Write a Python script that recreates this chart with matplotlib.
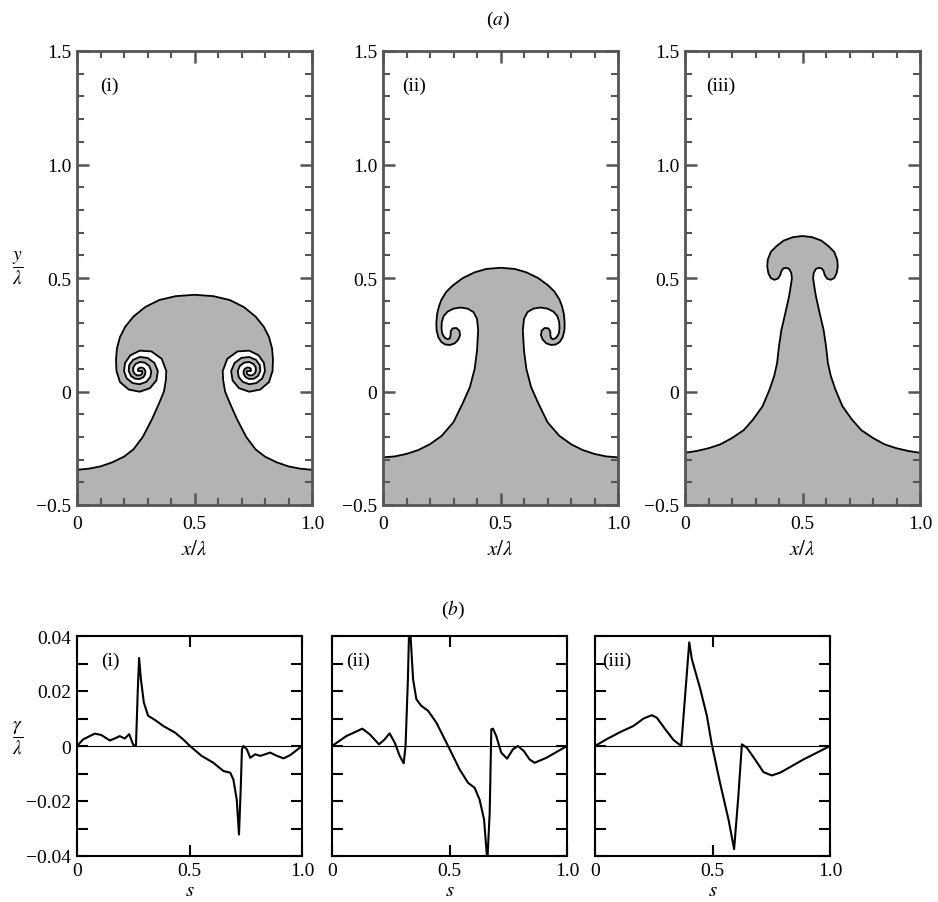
import numpy as np
import matplotlib.pyplot as plt
from matplotlib.ticker import MultipleLocator, FixedLocator

plt.rcParams['font.family'] = ['Liberation Serif', 'DejaVu Serif']
plt.rcParams['mathtext.fontset'] = 'stix'

# ---------------- (a) interface shapes, left half (mirrored about x = 0.5) ----------------
# panel (i): wall -> stem, rolled-up spiral (two interleaved arms), outer cap edge
base1_x = [0, 0.05, 0.1, 0.15, 0.2, 0.24, 0.28, 0.32, 0.35, 0.37, 0.378]
base1_y = [-0.345, -0.34, -0.33, -0.312, -0.287, -0.255, -0.2, -0.12, -0.05, 0.0, 0.05]
spiral1_center = (0.267, 0.09)
armA1_deg = [0, 30, 60, 90, 120, 150, 180, 210, 240, 270, 300, 330, 360,
             390, 420, 450, 480, 510, 540, 570, 600, 630, 660, 690, 720]
armA1_r = [0.113, 0.108, 0.100, 0.090, 0.080, 0.072, 0.067, 0.064, 0.061, 0.058, 0.055, 0.052, 0.049,
           0.046, 0.043, 0.040, 0.036, 0.032, 0.028, 0.025, 0.022, 0.019, 0.016, 0.013, 0.010]
armB1_deg = [180, 210, 240, 270, 300, 330, 360, 390, 420, 450, 480, 510, 540,
             570, 600, 630, 660, 690, 720, 750, 780, 810, 840, 870, 900]
armB1_r = [0.099, 0.097, 0.094, 0.091, 0.087, 0.082, 0.077, 0.072, 0.067, 0.062, 0.057, 0.052, 0.047,
           0.043, 0.039, 0.035, 0.031, 0.027, 0.024, 0.021, 0.018, 0.015, 0.012, 0.009, 0.006]
cap1_x = [0.166, 0.17, 0.183, 0.205, 0.24, 0.29, 0.35, 0.42, 0.5]
cap1_y = [0.14, 0.19, 0.24, 0.285, 0.33, 0.372, 0.403, 0.42, 0.426]

# panel (ii): wall -> stem -> curl over the lobe, lobe tongue, outer cap edge
base2_x = [0, 0.05, 0.1, 0.15, 0.2, 0.25, 0.3, 0.34, 0.37, 0.39, 0.4, 0.405,
           0.4, 0.385, 0.36, 0.33, 0.3, 0.275, 0.258, 0.25, 0.249, 0.252, 0.262, 0.275, 0.285, 0.288]
base2_y = [-0.29, -0.286, -0.275, -0.258, -0.232, -0.195, -0.135, -0.05, 0.02, 0.1, 0.18, 0.27,
           0.32, 0.35, 0.365, 0.37, 0.365, 0.352, 0.332, 0.305, 0.278, 0.255, 0.238, 0.23, 0.235, 0.25]
lobe2_x = [0.288, 0.296, 0.312, 0.325, 0.328, 0.32, 0.305, 0.285, 0.265, 0.248, 0.235, 0.228, 0.227]
lobe2_y = [0.265, 0.278, 0.28, 0.268, 0.248, 0.228, 0.212, 0.205, 0.207, 0.218, 0.24, 0.27, 0.30]
cap2_x = [0.23, 0.238, 0.249, 0.27, 0.298, 0.34, 0.39, 0.44, 0.5]
cap2_y = [0.34, 0.375, 0.405, 0.44, 0.468, 0.5, 0.525, 0.54, 0.545]

# panel (iii): wall -> stem -> neck, small hook, cap
base3_x = [0, 0.05, 0.1, 0.15, 0.2, 0.25, 0.29, 0.33, 0.36, 0.38, 0.392, 0.4, 0.41, 0.428,
           0.443, 0.45, 0.455]
base3_y = [-0.27, -0.262, -0.25, -0.233, -0.205, -0.17, -0.123, -0.065, 0.009, 0.07, 0.126, 0.2,
           0.27, 0.35, 0.42, 0.464, 0.5]
cap3_x = [0.452, 0.443, 0.431, 0.418, 0.41, 0.405, 0.395, 0.38, 0.365, 0.355, 0.35, 0.352,
          0.365, 0.389, 0.42, 0.46, 0.5]
cap3_y = [0.523, 0.54, 0.545, 0.542, 0.53, 0.512, 0.497, 0.492, 0.5, 0.52, 0.55, 0.58,
          0.615, 0.64, 0.665, 0.68, 0.685]

# ---------------- (b) gamma/lambda against s ----------------
s1 = [0, 0.027, 0.079, 0.108, 0.146, 0.175, 0.19, 0.212, 0.232, 0.25, 0.262, 0.27, 0.276, 0.284,
      0.297, 0.316, 0.346, 0.383, 0.435, 0.472, 0.502, 0.554, 0.606, 0.651, 0.681, 0.695, 0.71,
      0.72, 0.728, 0.733, 0.74, 0.755, 0.77, 0.792, 0.814, 0.859, 0.889, 0.918, 0.948, 1.0]
g1 = [0, 0.0024, 0.0045, 0.004, 0.002, 0.003, 0.0036, 0.0027, 0.0043, 0.0004, 0, 0.02, 0.032, 0.0243,
      0.0158, 0.011, 0.0095, 0.0073, 0.0049, 0.0024, 0, -0.0036, -0.0061, -0.0091, -0.0097, -0.0122,
      -0.0195, -0.0322, -0.0146, -0.0012, 0, -0.0012, -0.0043, -0.003, -0.0036, -0.0024, -0.0036,
      -0.0045, -0.0033, 0]
s2 = [0, 0.061, 0.129, 0.16, 0.2, 0.224, 0.245, 0.267, 0.288, 0.305, 0.313, 0.323, 0.328, 0.333,
      0.345, 0.359, 0.38, 0.409, 0.444, 0.494, 0.543, 0.579, 0.607, 0.628, 0.647, 0.661, 0.671,
      0.678, 0.685, 0.699, 0.72, 0.745, 0.77, 0.791, 0.816, 0.841, 0.862, 0.912, 1.0]
g2 = [0, 0.0036, 0.0063, 0.0043, 0.0006, 0.0024, 0.0046, 0.0012, -0.0036, -0.0063, 0, 0.0243, 0.042,
      0.042, 0.0243, 0.017, 0.0146, 0.0128, 0.0085, 0, -0.0085, -0.0134, -0.0152, -0.0195, -0.0267,
      -0.042, -0.0243, 0.0061, 0.0063, 0.0036, -0.0024, -0.0046, -0.0012, 0, -0.0018, -0.0049,
      -0.0061, -0.0043, 0]
s3 = [0, 0.05, 0.108, 0.164, 0.207, 0.242, 0.263, 0.299, 0.334, 0.367, 0.401, 0.412, 0.448, 0.476,
      0.497, 0.532, 0.568, 0.592, 0.61, 0.625, 0.646, 0.681, 0.717, 0.752, 0.788, 0.887, 1.0]
g3 = [0, 0.0025, 0.0051, 0.0073, 0.01, 0.0112, 0.0103, 0.0061, 0.0022, 0, 0.0377, 0.0316, 0.0207,
      0.011, 0.0006, -0.0134, -0.0267, -0.0375, -0.0182, 0.0006, -0.0006, -0.0049, -0.0095,
      -0.0107, -0.0097, -0.0049, 0]

W, H = 938, 903


def box(left, top, right, bottom):
    return [left / W, 1 - bottom / H, (right - left) / W, (bottom - top) / H]


def arm(center, deg, r):
    t = np.radians(deg)
    return list(center[0] + np.array(r) * np.cos(t)), list(center[1] + np.array(r) * np.sin(t))


aX, aY = arm(spiral1_center, armA1_deg, armA1_r)
bX, bY = arm(spiral1_center, armB1_deg, armB1_r)
half1 = (base1_x + aX + bX[::-1] + cap1_x, base1_y + aY + bY[::-1] + cap1_y)
half2 = (base2_x + lobe2_x + cap2_x, base2_y + lobe2_y + cap2_y)
half3 = (base3_x + cap3_x, base3_y + cap3_y)

fig = plt.figure(figsize=(W / 100, H / 100), dpi=100)

top_boxes = [box(77, 52, 312, 506), box(383, 52, 618, 506), box(685, 52, 920, 506)]
names = ['(i)', '(ii)', '(iii)']
top_lab_x = [0.1, 0.08, 0.09]
for k, (half, b) in enumerate(zip([half1, half2, half3], top_boxes)):
    ax = fig.add_axes(b)
    hx, hy = np.array(half[0]), np.array(half[1])
    lx = np.concatenate([hx, 1 - hx[::-1][1:]])
    ly = np.concatenate([hy, hy[::-1][1:]])
    ax.fill(np.concatenate([[0], lx, [1]]), np.concatenate([[-0.6], ly, [-0.6]]),
            facecolor='#b3b3b3', edgecolor='none')
    ax.plot(lx, ly, color='k', lw=1.3)
    ax.set_xlim(0, 1)
    ax.set_ylim(-0.5, 1.5)
    ax.xaxis.set_major_locator(FixedLocator([0, 0.5, 1.0]))
    ax.set_xticklabels(['0', '0.5', '1.0'])
    ax.xaxis.set_minor_locator(MultipleLocator(0.1))
    ax.yaxis.set_major_locator(FixedLocator([-0.5, 0, 0.5, 1.0, 1.5]))
    ax.set_yticklabels(['\u22120.5', '0', '0.5', '1.0', '1.5'])
    ax.yaxis.set_minor_locator(MultipleLocator(0.1))
    ax.tick_params(which='both', direction='in', top=True, right=True, color='#555555',
                   labelsize=14)
    ax.tick_params(which='major', length=8.5, width=1.8)
    ax.tick_params(which='minor', length=5, width=1.5)
    ax.tick_params(axis='x', pad=7)
    ax.tick_params(axis='y', pad=4)
    for sp in ax.spines.values():
        sp.set_color('#555555')
        sp.set_linewidth(2)
    ax.text(top_lab_x[k], 1.35, names[k], fontsize=14, ha='left', va='center')
    ax.set_xlabel(r'$x/\lambda$', fontsize=15, labelpad=6)

fig.text(18 / W, 1 - 268 / H, r'$\dfrac{y}{\lambda}$', fontsize=14, ha='center', va='center')
fig.text(498 / W, 1 - 20 / H, r'($a$)', fontsize=14, ha='center', va='center')
fig.text(453 / W, 1 - 610 / H, r'($b$)', fontsize=14, ha='center', va='center')

bot_boxes = [box(77, 637, 302, 857), box(332, 637, 567, 857), box(595, 637, 830, 857)]
bot_lab_x = [0.105, 0.062, 0.03]
for k, (s, g, b) in enumerate(zip([s1, s2, s3], [g1, g2, g3], bot_boxes)):
    ax = fig.add_axes(b)
    ax.axhline(0, color='k', lw=0.8)
    ax.plot(s, g, color='k', lw=1.5)
    ax.set_xlim(0, 1)
    ax.set_ylim(-0.04, 0.04)
    ax.xaxis.set_major_locator(FixedLocator([0, 0.5, 1.0]))
    ax.set_xticklabels(['0', '0.5', '1.0'])
    ax.yaxis.set_major_locator(FixedLocator([-0.04, -0.02, 0, 0.02, 0.04]))
    ax.yaxis.set_minor_locator(FixedLocator([-0.03, -0.01, 0.01, 0.03]))
    if k == 0:
        ax.set_yticklabels(['\u22120.04', '\u22120.02', '0', '0.02', '0.04'])
    else:
        ax.set_yticklabels([])
    ax.tick_params(which='both', direction='in', top=True, right=True, length=8, width=1.5,
                   labelsize=14)
    ax.tick_params(axis='x', pad=4)
    ax.tick_params(axis='y', pad=4)
    for sp in ax.spines.values():
        sp.set_linewidth(1.5)
    ax.text(bot_lab_x[k], 0.031, names[k], fontsize=14, ha='left', va='center')
    ax.set_xlabel(r'$s$', fontsize=15, labelpad=2)

fig.text(18 / W, 1 - 738 / H, r'$\dfrac{\gamma}{\lambda}$', fontsize=14, ha='center', va='center')

fig.savefig('out.png', dpi=100)
